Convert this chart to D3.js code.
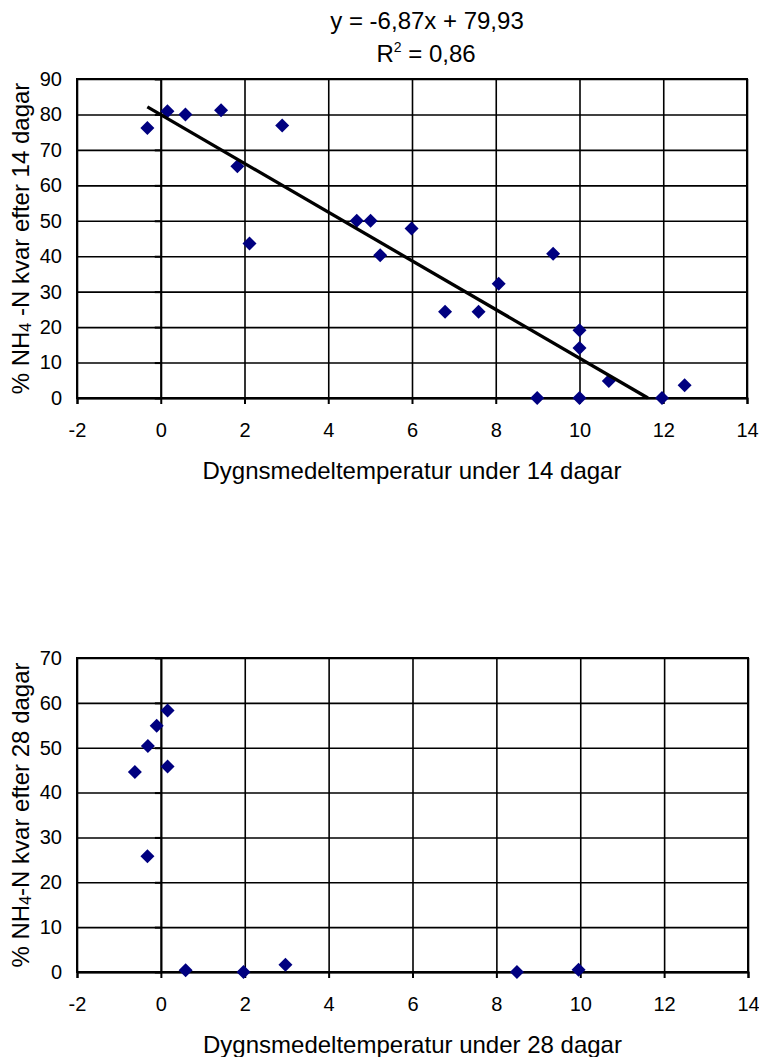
<!DOCTYPE html>
<html>
<head>
<meta charset="utf-8">
<script src="https://cdn.jsdelivr.net/npm/d3@7"></script>
<style>
  body { margin: 0; background: #fff; }
  text { font-family: "Liberation Sans", Arial, sans-serif; fill: #000; }
</style>
</head>
<body>
<script>
// two scatter panels, NH4-N left vs temperature

var xTicks = [-2, 0, 2, 4, 6, 8, 10, 12, 14];
var yTicks14 = [0, 10, 20, 30, 40, 50, 60, 70, 80, 90];
var yTicks28 = [0, 10, 20, 30, 40, 50, 60, 70];

var temp14 = [-0.32, 0.16, 0.59, 1.44, 1.83, 2.90, 2.12, 4.68, 5.01, 5.24, 5.99, 6.79, 7.59, 8.07, 9.37, 10.0, 10.0, 10.70, 12.51, 8.99, 10.0, 11.97];
var nh4_14 = [76.2, 80.9, 80.0, 81.2, 65.4, 76.9, 43.6, 50.0, 50.0, 40.3, 47.8, 24.3, 24.3, 32.2, 40.7, 19.1, 14.1, 4.8, 3.6, 0, 0, 0];

var temp28 = [-0.62, -0.31, -0.10, 0.16, 0.16, -0.32, 0.59, 1.97, 2.97, 8.49, 9.96];
var nh4_28 = [44.6, 50.4, 54.9, 58.3, 45.8, 25.8, 0.4, 0, 1.6, 0, 0.5];

var trendSlope = -6.87;
var trendIntercept = 79.93;
var trendEq = 'y = -6,87x + 79,93';
var trendR2 = '0,86';

var chart = {
  components: {},
  build: function(){
    this.components.svg = d3.select('body').append('svg')
      .attr('width', 759).attr('height', 1057);
  },
  panel: function(box, yMax, yTicks, xs, ys, days, gap){
    var svg = this.components.svg;
    var w = box.right - box.left, h = box.bottom - box.top;
    var x = d3.scaleLinear().domain([-2, 14]).range([box.left, box.right]);
    var y = d3.scaleLinear().domain([0, yMax]).range([box.bottom, box.top]);
    var g = svg.append('g').attr('class', 'panel');

    // horizontal grid + labels
    g.append('g').attr('transform', 'translate(' + box.left + ',0)')
      .call(d3.axisLeft(y).tickValues(yTicks).tickSize(-w).tickPadding(15).tickFormat(String))
      .call(function(a){
        a.select('.domain').remove();
        a.selectAll('line').attr('stroke', '#000').attr('stroke-width', 1.6);
        a.selectAll('text').attr('font-size', '20px').attr('font-family', null);
      });

    // vertical grid
    g.append('g').attr('transform', 'translate(0,' + box.bottom + ')')
      .call(d3.axisBottom(x).tickValues(xTicks).tickSize(-h).tickFormat(''))
      .call(function(a){
        a.select('.domain').remove();
        a.selectAll('line').attr('stroke', '#000').attr('stroke-width', 1.6);
      });

    // x axis with ticks and labels
    g.append('g').attr('transform', 'translate(0,' + y(0) + ')')
      .call(d3.axisBottom(x).tickValues(xTicks).tickSize(6).tickPadding(19).tickFormat(String))
      .call(function(a){
        a.select('.domain').attr('stroke', '#000').attr('stroke-width', 2);
        a.selectAll('line').attr('stroke', '#000').attr('stroke-width', 2);
        a.selectAll('text').attr('font-size', '20px').attr('font-family', null);
      });

    // y axis line at x=0
    g.append('g').attr('transform', 'translate(' + x(0) + ',0)')
      .call(d3.axisLeft(y).tickValues(yTicks).tickSize(6).tickFormat('').tickSizeOuter(0))
      .call(function(a){
        a.select('.domain').attr('stroke', '#000').attr('stroke-width', 2);
        a.selectAll('line').attr('stroke', '#000').attr('stroke-width', 2);
      });

    // plot border
    g.append('rect')
      .attr('x', box.left).attr('y', box.top).attr('width', w).attr('height', h)
      .attr('fill', 'none').attr('stroke', '#000').attr('stroke-width', 2);

    this.components.x = x;
    this.components.y = y;
    this.components.g = g;

    var pts = xs.map(function(d, i){ return {t: d, n: ys[i]}; });
    g.append('g').selectAll('path.pt').data(pts).enter().append('path')
      .attr('class', 'pt')
      .attr('d', 'M0,-7L7,0L0,7L-7,0Z')
      .attr('fill', '#000080')
      .attr('transform', function(d){ return 'translate(' + x(d.t) + ',' + y(d.n) + ')'; });

    // titles
    var yt = g.append('text')
      .attr('transform', 'translate(29,' + (box.top + box.bottom) / 2 + ') rotate(-90)')
      .attr('text-anchor', 'middle').attr('font-size', '24px');
    yt.append('tspan').text('% NH');
    yt.append('tspan').attr('font-size', '16px').attr('dy', 2).text('4');
    yt.append('tspan').attr('dy', -2).text(gap + '-N kvar efter ' + days + ' dagar');

    g.append('text')
      .attr('x', (box.left + box.right) / 2).attr('y', y(0) + 80.5)
      .attr('text-anchor', 'middle').attr('font-size', '24px')
      .text('Dygnsmedeltemperatur under ' + days + ' dagar');
    return g;
  },
  trend: function(xs){
    var x = this.components.x, y = this.components.y, g = this.components.g;
    var x0 = d3.min(xs), x1 = d3.max(xs);
    // stop the line where it meets y = 0
    var xZero = -trendIntercept / trendSlope;
    if (x1 > xZero) x1 = xZero;
    g.append('line')
      .attr('x1', x(x0)).attr('y1', y(trendSlope * x0 + trendIntercept))
      .attr('x2', x(x1)).attr('y2', y(trendSlope * x1 + trendIntercept))
      .attr('stroke', '#000').attr('stroke-width', 3.3);
    var svg = this.components.svg;
    svg.append('text').attr('x', 427).attr('y', 29)
      .attr('text-anchor', 'middle').attr('font-size', '24px').text(trendEq);
    var r = svg.append('text').attr('x', 426).attr('y', 62)
      .attr('text-anchor', 'middle').attr('font-size', '24px');
    r.append('tspan').text('R');
    r.append('tspan').attr('font-size', '14px').attr('dy', -10).text('2');
    r.append('tspan').attr('dy', 10).text(' = ' + trendR2);
  }
};

chart.build();
chart.panel({left: 77, right: 747, top: 79, bottom: 398}, 90, yTicks14, temp14, nh4_14, 14, ' ');
chart.trend(temp14);
chart.panel({left: 77, right: 748, top: 658, bottom: 972}, 70, yTicks28, temp28, nh4_28, 28, '');
</script>
</body>
</html>
